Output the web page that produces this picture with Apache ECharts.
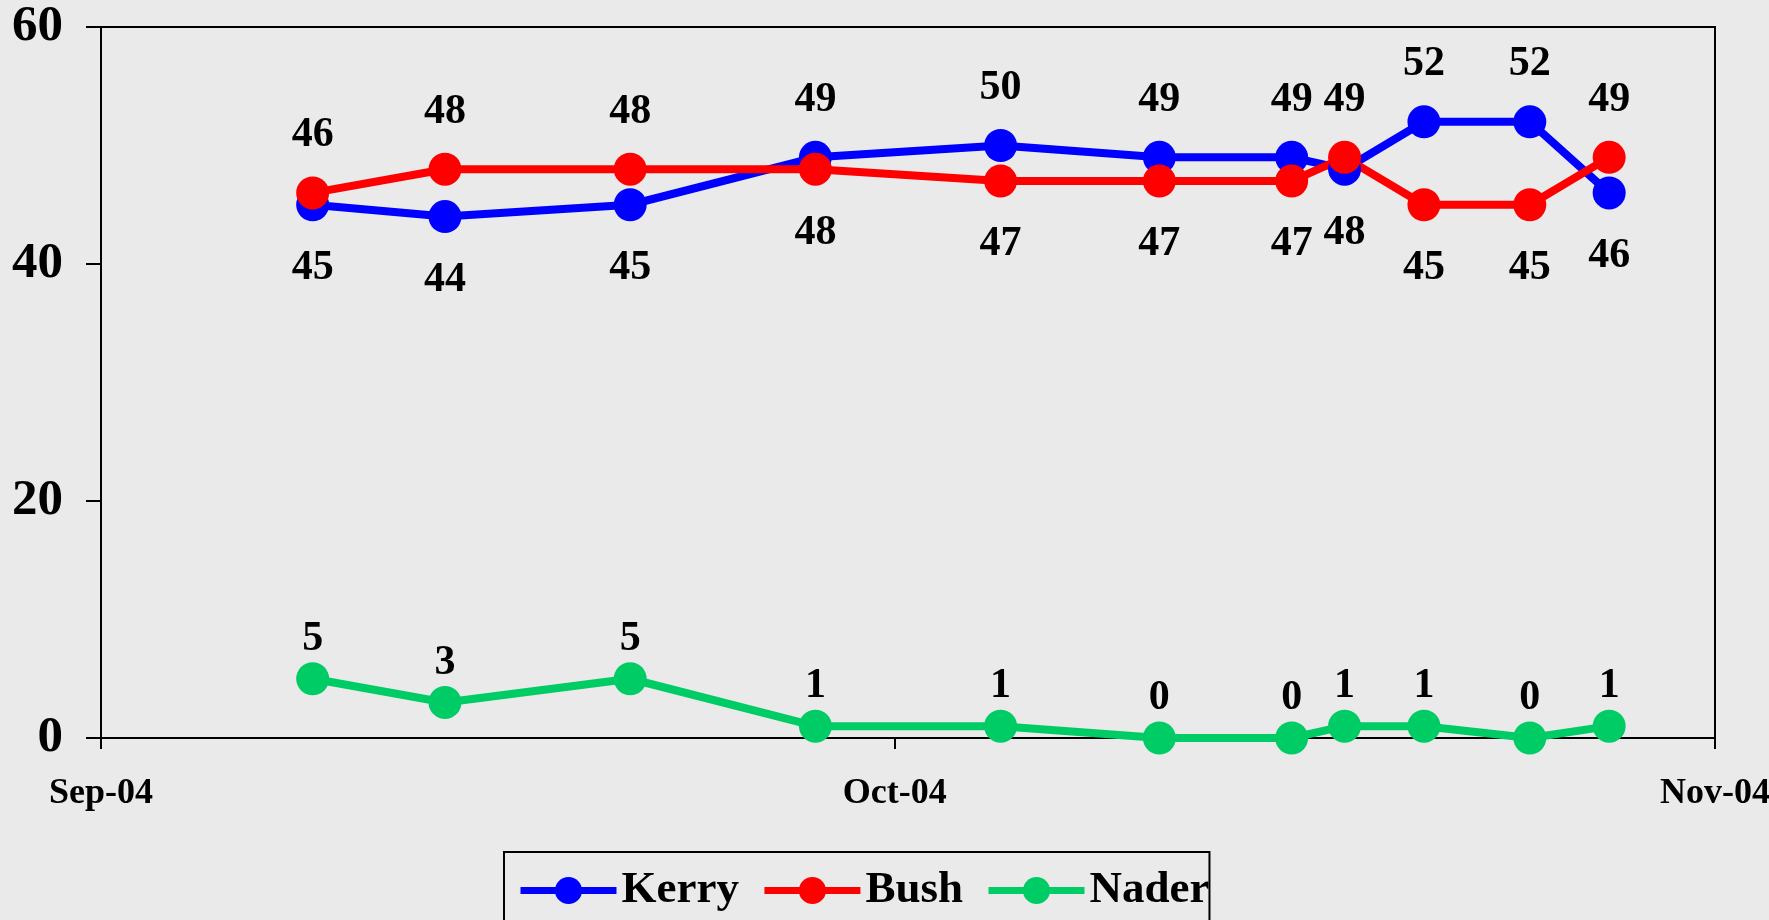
<!DOCTYPE html>
<html>
<head>
<meta charset="utf-8">
<script src="https://cdn.jsdelivr.net/npm/echarts@6/dist/echarts.min.js"></script>
<style>
  html, body { margin: 0; padding: 0; background: #eaeaea; }
  #chart { width: 1769px; height: 920px; }
</style>
</head>
<body>
<div id="chart"></div>
<script>
var dates = ['2004-09-09', '2004-09-14', '2004-09-21', '2004-09-28', '2004-10-05', '2004-10-11',
             '2004-10-16', '2004-10-18', '2004-10-21', '2004-10-25', '2004-10-28']
var kerry = [45, 44, 45, 49, 50, 49, 49, 48, 52, 52, 46]
var bush = [46, 48, 48, 48, 47, 47, 47, 49, 45, 45, 49]
var nader = [5, 3, 5, 1, 1, 0, 0, 1, 1, 0, 1]
// where each value label sits (t = above the dot, b = below)
var kerryPos = ['b', 'b', 'b', 't', 't', 't', 't', 'b', 't', 't', 'b']
var bushPos = ['t', 't', 't', 'b', 'b', 'b', 'b', 't', 'b', 'b', 't']
var monthTicks = ['2004-09-01', '2004-10-01', '2004-11-01']
var monthNames = ['Jan', 'Feb', 'Mar', 'Apr', 'May', 'Jun', 'Jul', 'Aug', 'Sep', 'Oct', 'Nov', 'Dec']

var serif = '"Liberation Serif", "Times New Roman", serif'

function ts(d) {
    var p = d.split('-')
    return Date.UTC(+p[0], +p[1] - 1, +p[2])
}
var tickVals = monthTicks.map(ts)

function build(values, pos) {
    return values.map(function (v, i) {
        var item = { value: [ts(dates[i]), v] }
        if (pos) {
            item.label = pos[i] === 't'
                ? { position: 'top', distance: 20 }
                : { position: 'bottom', distance: 26 }
        }
        return item
    })
}

function lineSeries(name, color, values, pos, dist) {
    return {
        name: name,
        type: 'line',
        data: build(values, pos),
        symbol: 'circle',
        symbolSize: 33,
        itemStyle: { color: color },
        lineStyle: { color: color, width: 8 },
        label: {
            show: true,
            position: 'top',
            distance: dist,
            color: '#000',
            fontFamily: serif,
            fontWeight: 'bold',
            fontSize: 42
        }
    }
}

var myChart = echarts.init(document.getElementById('chart'))

myChart.setOption({
    backgroundColor: '#eaeaea',
    animation: false,
    grid: {
        left: 101, right: 54, top: 27, bottom: 182,
        outerBoundsMode: 'none',
        show: true, borderColor: '#000', borderWidth: 2
    },
    xAxis: {
        type: 'value',
        min: tickVals[0],
        max: tickVals[2],
        splitLine: { show: false },
        axisLine: { lineStyle: { color: '#000', width: 2 } },
        axisTick: {
            show: true, length: 11, inside: false,
            lineStyle: { color: '#000', width: 2 },
            customValues: tickVals
        },
        axisLabel: {
            customValues: tickVals,
            showMinLabel: true, showMaxLabel: true,
            hideOverlap: false,
            margin: 38,
            color: '#000',
            fontFamily: serif,
            fontWeight: 'bold',
            fontSize: 36,
            formatter: function (val) {
                var d = new Date(val)
                return monthNames[d.getUTCMonth()] + '-' + String(d.getUTCFullYear()).slice(2)
            }
        }
    },
    yAxis: {
        type: 'value',
        min: 0, max: 60, interval: 20,
        splitLine: { show: false },
        axisLine: { show: true, lineStyle: { color: '#000', width: 2 } },
        axisTick: { show: true, length: 15, lineStyle: { color: '#000', width: 2 } },
        axisLabel: {
            margin: 38,
            color: '#000',
            fontFamily: serif,
            fontWeight: 'bold',
            fontSize: 51
        }
    },
    legend: {
        left: 504,
        top: 852,
        padding: [16, 0, 40, 13],
        itemGap: 22,
        itemWidth: 96,
        itemHeight: 34,
        borderColor: '#000',
        borderWidth: 2,
        lineStyle: { width: 7 },
        textStyle: {
            color: '#000',
            fontFamily: serif,
            fontWeight: 'bold',
            fontSize: 45
        },
        data: ['Kerry', 'Bush', 'Nader']
    },
    series: [
        lineSeries('Kerry', '#0000ff', kerry, kerryPos, 20),
        lineSeries('Bush', '#ff0000', bush, bushPos, 20),
        lineSeries('Nader', '#00cc66', nader, null, 2)
    ]
})
</script>
</body>
</html>
